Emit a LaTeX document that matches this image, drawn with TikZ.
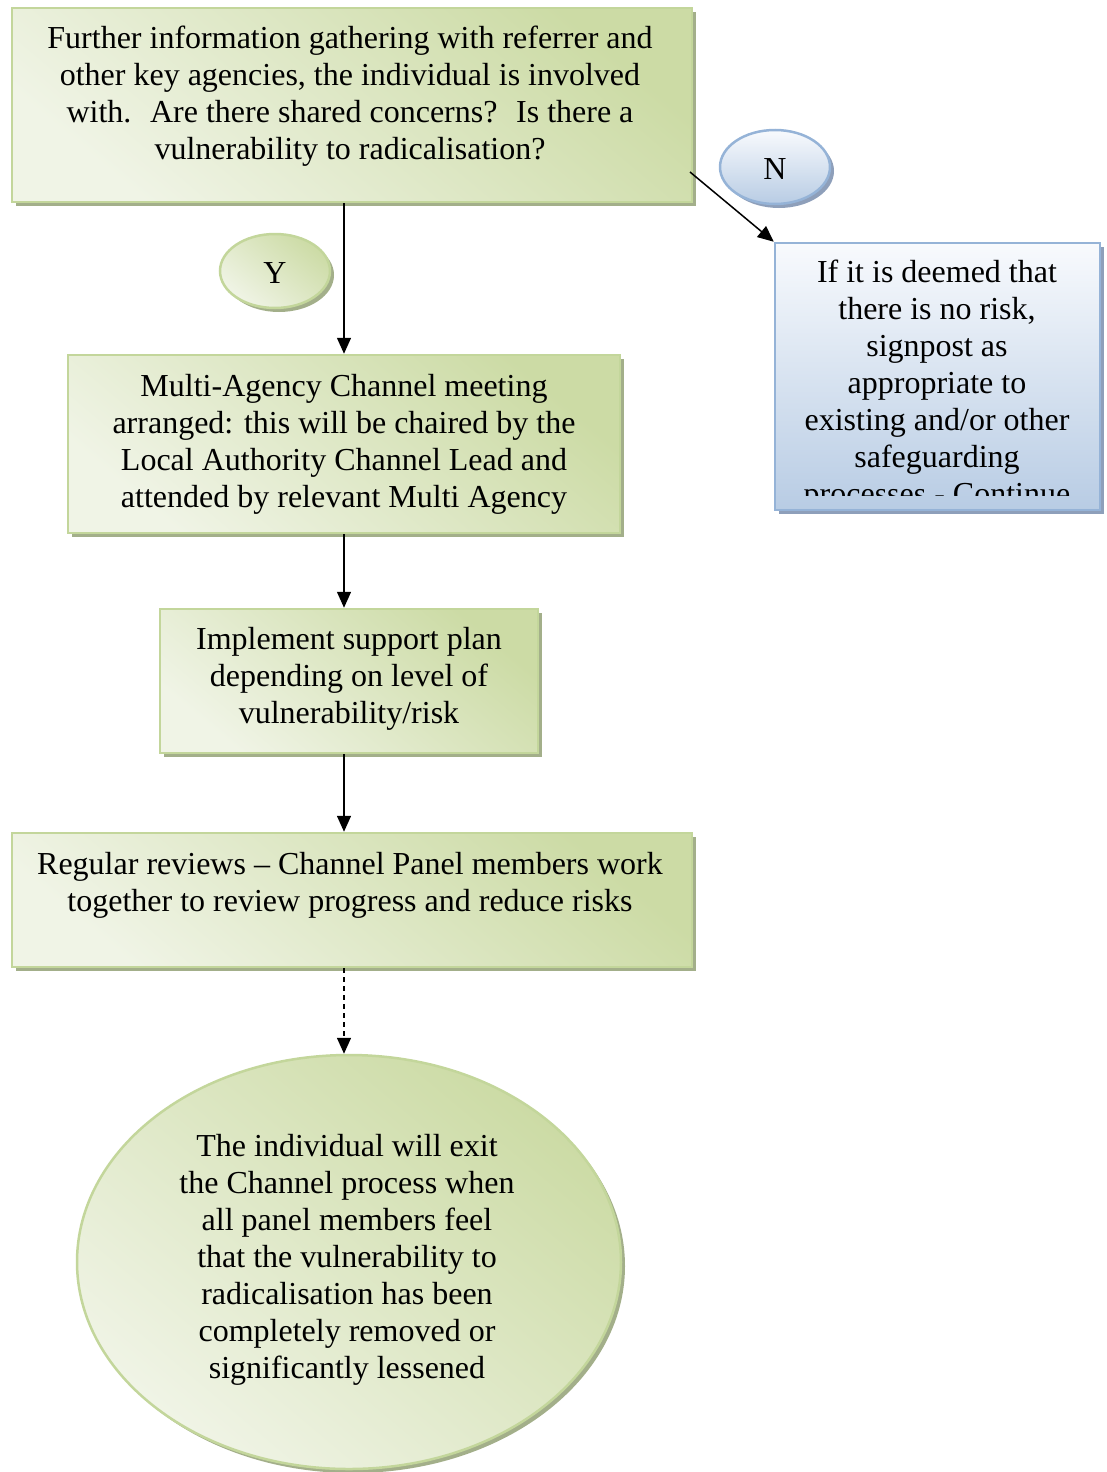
\documentclass[tikz,border=0pt]{standalone}
\usepackage{fontspec}
\setmainfont{Liberation Serif}
\usetikzlibrary{shapes.geometric,arrows.meta,shadows}
\definecolor{gline}{HTML}{C3D69B}
\definecolor{glight}{HTML}{F0F4E6}
\definecolor{gdark}{HTML}{CCDBA5}
\definecolor{gshadow}{HTML}{A3AF8A}
\definecolor{bline}{HTML}{95B3D7}
\definecolor{blight}{HTML}{F8FAFD}
\definecolor{bdark}{HTML}{B8CCE4}
\definecolor{bshadow}{HTML}{8E9FBA}
\tikzset{
  gfill/.style={draw=gline, line width=2.5pt, top color=gdark, bottom color=glight, shading angle=-40,
    drop shadow={shadow xshift=4pt, shadow yshift=-4pt, fill=gshadow, opacity=1}, inner sep=0pt},
  bfill/.style={draw=bline, line width=2.5pt, top color=blight, bottom color=bdark,
    drop shadow={shadow xshift=4pt, shadow yshift=-4pt, fill=bshadow, opacity=1}, inner sep=0pt},
  gbox/.style={gfill, rectangle},
  bbox/.style={bfill, rectangle},
  gell/.style={gfill, ellipse},
  bell/.style={bfill, ellipse},
  txt/.style={align=center, font=\fontsize{32}{37}\selectfont, inner sep=0pt},
  arr/.style={line width=1.5pt, -{Triangle[length=16pt,width=14pt]}},
}
\begin{document}
\begin{tikzpicture}[x=1pt, y=-1pt]
\useasboundingbox (0,0) rectangle (1106,1472);
% shapes
\node[gbox, minimum width=680pt, minimum height=194pt] (top) at (352,105) {};
\node[bell, minimum width=110pt, minimum height=74pt] (n) at (775,167) {};
\node[gell, minimum width=110pt, minimum height=74pt] (y) at (275,271) {};
\node[bbox, minimum width=325pt, minimum height=267pt] (blue) at (937.5,376.5) {};
\node[gbox, minimum width=552pt, minimum height=178pt] (b2) at (344,444) {};
\node[gbox, minimum width=378pt, minimum height=144pt] (b3) at (349,681) {};
\node[gbox, minimum width=680pt, minimum height=134pt] (b4) at (352,900) {};
\node[gell, minimum width=544pt, minimum height=414pt] (ell) at (349,1262) {};
% texts
\node[txt] (topt) at (350,96) {Further information gathering with referrer and\\other key agencies, the individual is involved\\with.~ Are there shared concerns?~ Is there a\\vulnerability to radicalisation?};
\node[txt] (nt) at (775,169) {N};
\node[txt] (yt) at (275,273) {Y};
\begin{scope}
  \clip (777,245) rectangle (1098,495);
  \node[txt] (bluet) at (937,386) {If it is deemed that\\there is no risk,\\signpost as\\appropriate to\\existing and/or other\\safeguarding\\processes - Continue};
\end{scope}
\node[txt] (b2t) at (344,444) {Multi-Agency Channel meeting\\arranged: this will be chaired by the\\Local Authority Channel Lead and\\attended by relevant Multi Agency};
\node[txt] (b3t) at (349,679) {Implement support plan\\depending on level of\\vulnerability/risk};
\node[txt] (b4t) at (350,885) {Regular reviews – Channel Panel members work\\together to review progress and reduce risks};
\node[txt] (ellt) at (347,1260) {The individual will exit\\the Channel process when\\all panel members feel\\that the vulnerability to\\radicalisation has been\\completely removed or\\significantly lessened};
% connectors
\coordinate (nstart) at (690,172);
\draw[arr] (nstart) -- (blue.north west);
\draw[arr] (b2.north |- top.south) -- (b2.north);
\draw[arr] (b2.south) -- (b2.south |- b3.north);
\draw[arr] (b2.south |- b3.south) -- (b2.south |- b4.north);
\draw[arr, dashed, dash pattern=on 5pt off 4pt] (b2.south |- b4.south) -- (b2.south |- ell.north);
\end{tikzpicture}
\end{document}
